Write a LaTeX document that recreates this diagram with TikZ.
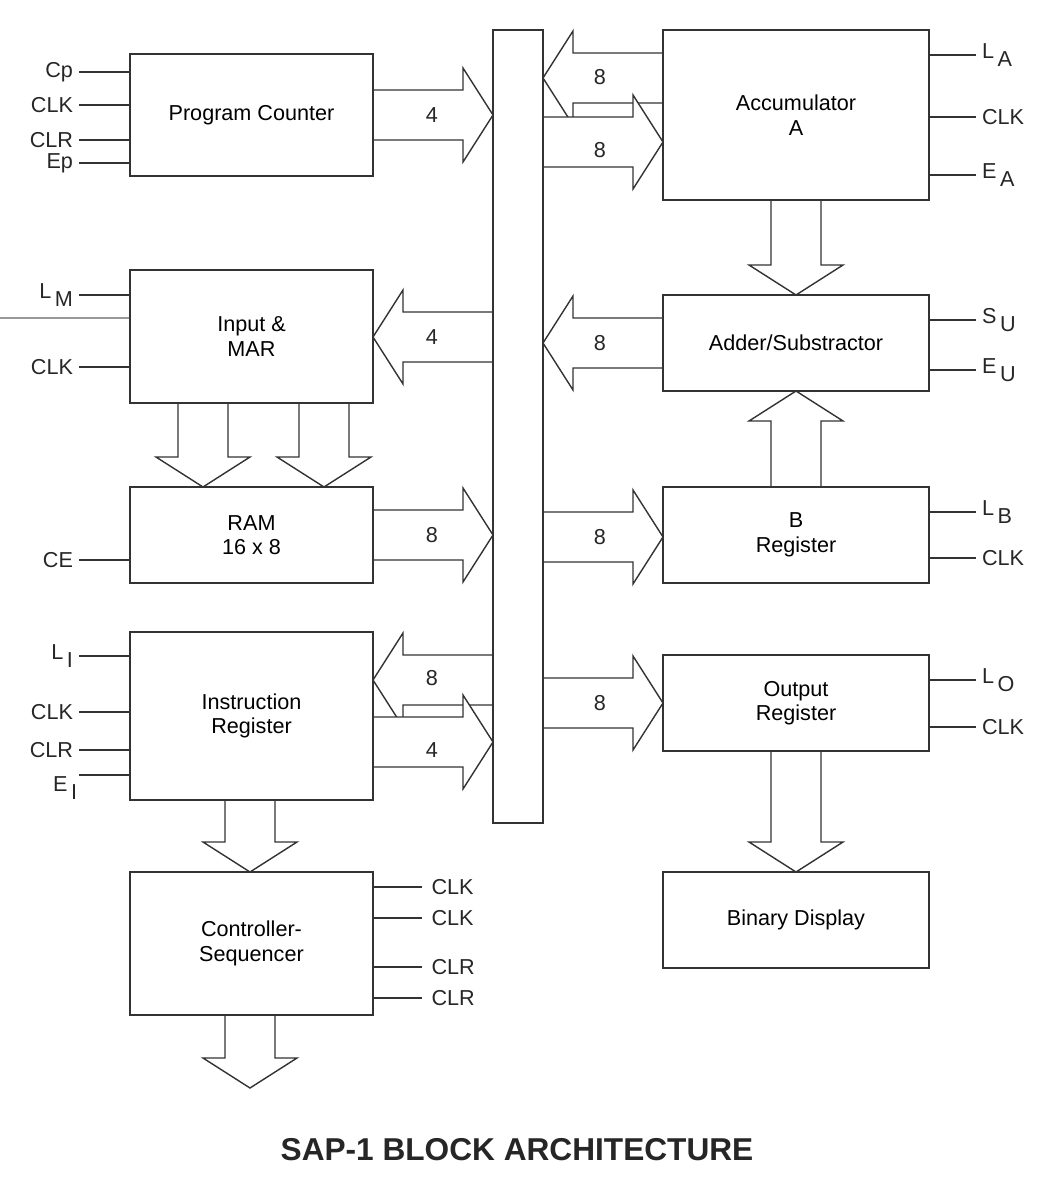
\documentclass[tikz,border=0pt]{standalone}
\usepackage{fontspec}
\setmainfont{Liberation Sans}
\usetikzlibrary{calc}
\newcommand\sig[2]{#1\raisebox{-0.7ex}{\,#2}}
\tikzset{
  box/.style={draw=black!80,line width=0.9pt,fill=white,align=center,minimum width=4.86cm,font=\fontsize{12.3}{14}\selectfont},
  ctl/.style={draw=black!80,line width=1.1pt},
  lbl/.style={font=\fontsize{12.3}{14}\selectfont,text=black!85},
  hfat/.pic={\draw[draw=black!80,line width=0.8pt,fill=white] (0,-25) -- ({#1-30},-25) -- ({#1-30},-47) -- (#1,0) -- ({#1-30},47) -- ({#1-30},25) -- (0,25);},
  vfat/.pic={\draw[draw=black!80,line width=0.8pt,fill=white] (-25,0) -- (-25,{#1-30}) -- (-47,{#1-30}) -- (0,#1) -- (47,{#1-30}) -- (25,{#1-30}) -- (25,0);}
}
\begin{document}
\begin{tikzpicture}[x=0.02cm,y=-0.02cm]
\useasboundingbox (0,0) rectangle (1046,1200);

% wide data paths
\pic at (373,115) {hfat=120};
\pic[xscale=-1] at (663,78) {hfat=120};
\pic at (543,142) {hfat=120};
\pic[xscale=-1] at (493,337) {hfat=120};
\pic[xscale=-1] at (663,343) {hfat=120};
\pic at (373,535) {hfat=120};
\pic at (543,537) {hfat=120};
\pic[xscale=-1] at (493,680) {hfat=120};
\pic at (373,742) {hfat=120};
\pic at (543,703) {hfat=120};
\pic at (796,200) {vfat=95};
\pic[yscale=-1] at (796,487) {vfat=96};
\pic at (203,403) {vfat=84};
\pic at (324,403) {vfat=84};
\pic at (250,800) {vfat=72};
\pic at (796,751) {vfat=121};
\pic at (250,1015) {vfat=73};

% blocks
\node[box,minimum height=2.44cm] (pc) at (251.5,115) {Program Counter};
\node[box,minimum height=2.66cm] (mar) at (251.5,336.5) {Input \&\\MAR};
\node[box,minimum height=1.92cm] (ram) at (251.5,535) {RAM\\16 x 8};
\node[box,minimum height=3.36cm] (ir) at (251.5,716) {Instruction\\Register};
\node[box,minimum height=2.86cm] (cs) at (251.5,943.5) {Controller-\\Sequencer};
\node[box,minimum width=1cm,minimum height=15.86cm] (bus) at (518,426.5) {};
\node[box,minimum width=5.32cm,minimum height=3.4cm] (acc) at (796,115) {Accumulator\\A};
\node[box,minimum width=5.32cm,minimum height=1.92cm] (add) at (796,343) {Adder/Substractor};
\node[box,minimum width=5.32cm,minimum height=1.92cm] (breg) at (796,535) {B\\Register};
\node[box,minimum width=5.32cm,minimum height=1.92cm] (out) at (796,703) {Output\\Register};
\node[box,minimum width=5.32cm,minimum height=1.92cm] (disp) at (796,920) {Binary Display};

% bus widths
\foreach \x/\y/\t in {432/115/4,600/77/8,600/150/8,432/337/4,600/343/8,432/535/8,600/537/8,432/678/8,432/750/4,600/703/8}
  \node[lbl] at (\x,\y) {\t};

% control lines, left
\foreach \n/\y/\t in {pc/72/Cp,pc/105/CLK,pc/140/CLR,pc/163/Ep,mar/295/\sig{L}{M},mar/367/CLK,ram/560/CE,ir/656/\sig{L}{I},ir/712/CLK,ir/750/CLR}
  \draw[ctl] (\n.west |- 0,\y) -- ++(-50,0) node[lbl,left,inner sep=3pt] {\t};
\draw[ctl] (ir.west |- 0,775) -- ++(-50,0) coordinate (ei);
\node[lbl,below left,inner sep=1pt] at (ei) {\sig{E}{I}};
\draw[black!40,line width=0.6pt] (mar.west |- 0,318) -- (0,318);

% control lines, controller
\foreach \y/\t in {887/CLK,918/CLK,967/CLR,998/CLR}
  \draw[ctl] (cs.east |- 0,\y) -- ++(48,0) node[lbl,right,inner sep=5pt] {\t};

% control lines, right
\foreach \n/\y/\t in {acc/55/\sig{L}{A},acc/117/CLK,acc/175/\sig{E}{A},add/320/\sig{S}{U},add/370/\sig{E}{U},breg/512/\sig{L}{B},breg/558/CLK,out/680/\sig{L}{O},out/727/CLK}
  \draw[ctl] (\n.east |- 0,\y) -- ++(46,0) node[lbl,right,inner sep=3pt] {\t};

\node[font=\bfseries\fontsize{18}{21}\selectfont,text=black!85] (title) at (517,1150) {SAP-1 BLOCK ARCHITECTURE};
\end{tikzpicture}
\end{document}
